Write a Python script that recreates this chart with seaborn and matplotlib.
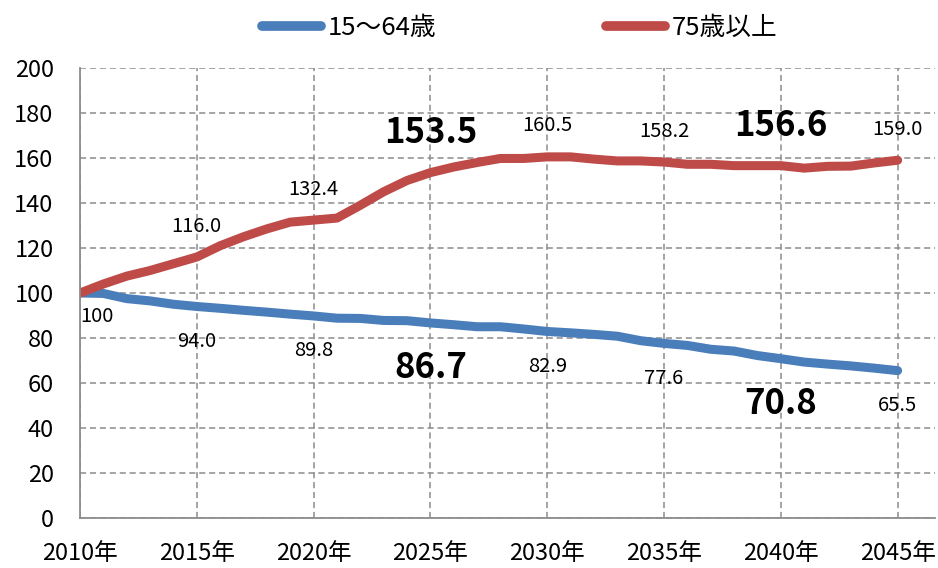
import matplotlib
matplotlib.use("Agg")
import matplotlib.pyplot as plt
import seaborn as sns
import pandas as pd
import numpy as np

years = list(range(2010, 2046))
working_age = [100, 99.8, 97.5, 96.5, 95.0, 94.0, 93.2, 92.3, 91.5, 90.6,
               89.8, 88.8, 88.7, 87.8, 87.7, 86.7, 85.9, 85.0, 85.0, 84.0,
               82.9, 82.3, 81.6, 80.8, 78.8, 77.6, 76.7, 75.0, 74.2, 72.2,
               70.8, 69.3, 68.4, 67.6, 66.6, 65.5]
elderly_75 = [100, 104.0, 107.5, 110.0, 113.0, 116.0, 121.0, 125.0, 128.5, 131.5,
              132.4, 133.3, 139.0, 145.0, 150.0, 153.5, 156.0, 158.0, 159.8, 159.8,
              160.5, 160.5, 159.5, 158.7, 158.7, 158.2, 157.2, 157.2, 156.6, 156.6,
              156.6, 155.5, 156.3, 156.4, 157.8, 159.0]
series_names = ["15～64歳", "75歳以上"]
colors = ["#4A7EBB", "#BE4B48"]
label_years = [2010, 2015, 2020, 2025, 2030, 2035, 2040, 2045]
bold_years = [2025, 2040]
x_tick_labels = [f"{y}年" for y in label_years]
y_ticks = list(range(0, 201, 20))

sns.set_theme(style="white")
plt.rcParams["font.family"] = ["Noto Sans CJK JP", "DejaVu Sans"]
plt.rcParams["text.color"] = "black"

df = pd.DataFrame({
    "year": years * 2,
    "value": working_age + elderly_75,
    "series": [series_names[0]] * len(years) + [series_names[1]] * len(years),
})

fig = plt.figure(figsize=(9.38, 5.68), dpi=100)
ax = fig.add_axes([80 / 938, 50 / 568, 855 / 938, 450 / 568])

sns.lineplot(data=df, x="year", y="value", hue="series", palette=colors,
             linewidth=6.5, ax=ax, legend=False, solid_capstyle="round",
             solid_joinstyle="round")

ax.set_xlim(2010, 2046.6)
ax.set_ylim(0, 200)
ax.set_xticks(label_years)
ax.set_xticklabels(x_tick_labels, fontsize=17)
ax.set_yticks(y_ticks)
ax.set_yticklabels([str(v) for v in y_ticks], fontsize=17)
ax.set_xlabel("")
ax.set_ylabel("")

ax.grid(True, color="#8C8C8C", linestyle=(0, (4, 2.5)), linewidth=1.1)
ax.set_axisbelow(True)
for s in ["top", "right"]:
    ax.spines[s].set_visible(False)
for s in ["left", "bottom"]:
    ax.spines[s].set_color("#8C8C8C")
    ax.spines[s].set_linewidth(1.3)
ax.tick_params(axis="both", which="both", direction="out", length=5,
               color="#8C8C8C", width=1.2, labelcolor="black")
ax.tick_params(axis="y", pad=14)
ax.tick_params(axis="x", pad=12)

# data labels
for yr in label_years:
    i = years.index(yr)
    bold = yr in bold_years
    fs = 25 if bold else 14.5
    fw = "bold" if bold else "normal"
    if yr == 2010:
        ax.annotate(f"{working_age[i]:.0f}", (yr, working_age[i]), xytext=(17, -24),
                    textcoords="offset pixels", ha="center", va="center",
                    fontsize=fs, fontweight=fw)
        continue
    ax.annotate(f"{elderly_75[i]:.1f}", (yr, elderly_75[i]),
                xytext=(0, 40 if bold else 31), textcoords="offset pixels",
                ha="center", va="center", fontsize=fs, fontweight=fw)
    ax.annotate(f"{working_age[i]:.1f}", (yr, working_age[i]),
                xytext=(0, -45 if bold else -35), textcoords="offset pixels",
                ha="center", va="center", fontsize=fs, fontweight=fw)

handles = [plt.Line2D([0], [0], color=c, linewidth=7, solid_capstyle="round")
           for c in colors]
fig.legend(handles, series_names, loc="center", bbox_to_anchor=(0.554, 0.951),
           ncol=2, frameon=False, fontsize=18.5, handlelength=2.3,
           columnspacing=6.6, handletextpad=0.25)

fig.savefig("out.png", dpi=100)
